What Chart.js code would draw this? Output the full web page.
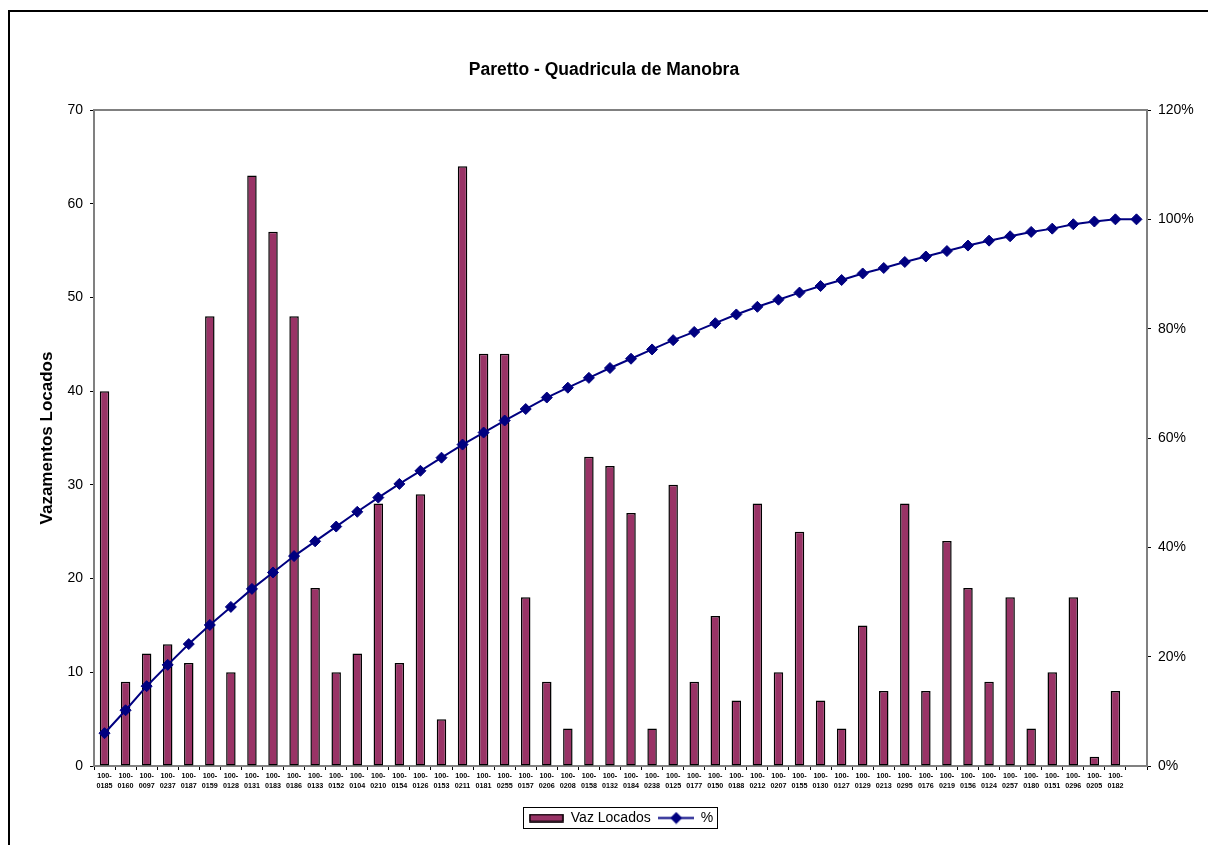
<!DOCTYPE html>
<html>
<head>
<meta charset="utf-8">
<title>Paretto - Quadricula de Manobra</title>
<script src="https://cdn.jsdelivr.net/npm/chart.js@4.4.1/dist/chart.umd.min.js"></script>
<style>
  html, body { margin: 0; padding: 0; background: #fff; overflow: hidden; }
  #wrap { position: relative; width: 1208px; height: 845px; }
  #c { position: absolute; left: 0; top: 0; }
  #frame { position: absolute; left: 8px; top: 10px; width: 1230px; height: 870px;
           border: 2px solid #000; box-sizing: border-box; pointer-events: none; }
</style>
</head>
<body>
<div id="wrap">
  <canvas id="c" width="1208" height="845"></canvas>
  <div id="frame"></div>
</div>
<script>
// Quadrícula codes (the last slot closes the cumulative curve at 100%)
const categories = [
  '100-0185','100-0160','100-0097','100-0237','100-0187','100-0159','100-0128','100-0131',
  '100-0183','100-0186','100-0133','100-0152','100-0104','100-0210','100-0154','100-0126',
  '100-0153','100-0211','100-0181','100-0255','100-0157','100-0206','100-0208','100-0158',
  '100-0132','100-0184','100-0238','100-0125','100-0177','100-0150','100-0188','100-0212',
  '100-0207','100-0155','100-0130','100-0127','100-0129','100-0213','100-0295','100-0176',
  '100-0219','100-0156','100-0124','100-0257','100-0180','100-0151','100-0296','100-0205',
  '100-0182',''
];

// Vazamentos locados per quadrícula
const vazLocados = [
  40, 9, 12, 13, 11, 48, 10, 63, 57, 48, 19, 10, 12, 28, 11, 29,
  5, 64, 44, 44, 18, 9, 4, 33, 32, 27, 4, 30, 9, 16, 7, 28,
  10, 25, 7, 4, 15, 8, 28, 8, 24, 19, 9, 18, 4, 10, 18, 1,
  8
];

// Cumulative percentage curve
const percentAcumulado = [
  6.0, 10.2, 14.6, 18.5, 22.3, 25.8, 29.1, 32.4, 35.4, 38.4,
  41.1, 43.8, 46.5, 49.1, 51.6, 54.0, 56.4, 58.8, 61.0, 63.2,
  65.3, 67.4, 69.2, 71.0, 72.8, 74.5, 76.2, 77.9, 79.4, 81.0,
  82.6, 84.0, 85.3, 86.6, 87.8, 88.9, 90.1, 91.1, 92.2, 93.2,
  94.2, 95.2, 96.1, 96.9, 97.7, 98.3, 99.1, 99.6, 100.0, 100.0
];

// Axis tick values
const leftTicks = [0, 10, 20, 30, 40, 50, 60, 70];
const rightTicks = [0, 20, 40, 60, 80, 100, 120];

const BAR_COLOR = '#993366';
const LINE_COLOR = '#000080';
const AXIS_GRAY = '#808080';
const FONT = '"Liberation Sans", Arial, Helvetica, sans-serif';

// Legend symbols: plum swatch and a line with a diamond marker
function makeBarSwatch() {
  const cv = document.createElement('canvas');
  cv.width = 35; cv.height = 9;
  const g = cv.getContext('2d');
  g.fillStyle = BAR_COLOR;
  g.fillRect(0.5, 0.5, 34, 8);
  g.strokeStyle = '#000'; g.lineWidth = 1.5;
  g.strokeRect(1, 1, 33, 7);
  return cv;
}
function makeLineSwatch() {
  const cv = document.createElement('canvas');
  cv.width = 36; cv.height = 13;
  const g = cv.getContext('2d');
  g.strokeStyle = LINE_COLOR; g.lineWidth = 2;
  g.beginPath(); g.moveTo(0, 6.5); g.lineTo(36, 6.5); g.stroke();
  g.fillStyle = LINE_COLOR;
  g.beginPath(); g.moveTo(18, 0.5); g.lineTo(24, 6.5); g.lineTo(18, 12.5); g.lineTo(12, 6.5); g.closePath(); g.fill();
  return cv;
}
const barSwatch = makeBarSwatch();
const lineSwatch = makeLineSwatch();

// Plot-area border, legend frame and legend offset
const framePlugin = {
  id: 'framePlugin',
  afterLayout(chart) {
    const lg = chart.legend;
    if (lg) { lg.left += 17; lg.right += 17; }
  },
  beforeDatasetsDraw(chart) {
    const { ctx, chartArea: a } = chart;
    ctx.save();
    ctx.strokeStyle = AXIS_GRAY;
    ctx.lineWidth = 2;
    ctx.strokeRect(a.left, a.top, a.right - a.left, a.bottom - a.top);
    ctx.restore();
  },
  afterDraw(chart) {
    const lg = chart.legend;
    if (!lg || !lg.legendHitBoxes || !lg.legendHitBoxes.length) return;
    const hb = lg.legendHitBoxes;
    let l = Infinity, r = -Infinity, t = Infinity, b = -Infinity;
    hb.forEach(h => {
      l = Math.min(l, h.left); r = Math.max(r, h.left + h.width);
      t = Math.min(t, h.top); b = Math.max(b, h.top + h.height);
    });
    const ctx = chart.ctx;
    ctx.save();
    ctx.strokeStyle = '#000';
    ctx.lineWidth = 1;
    ctx.strokeRect(Math.round(l - 6) + 0.5, Math.round(t - 4) + 0.5,
                   Math.round(r - l + 10), Math.round(b - t + 7));
    ctx.restore();
  }
};

new Chart(document.getElementById('c'), {
  type: 'bar',
  data: {
    labels: categories,
    datasets: [
      {
        type: 'bar',
        label: 'Vaz Locados',
        data: vazLocados,
        yAxisID: 'y',
        backgroundColor: BAR_COLOR,
        borderColor: '#000',
        borderWidth: 1.5,
        borderSkipped: false,
        categoryPercentage: 1.0,
        barPercentage: 0.45,
        order: 2
      },
      {
        type: 'line',
        label: '%',
        data: percentAcumulado,
        yAxisID: 'y1',
        borderColor: LINE_COLOR,
        backgroundColor: LINE_COLOR,
        borderWidth: 2,
        tension: 0,
        pointStyle: 'rectRot',
        pointRadius: 5.5,
        pointBorderWidth: 1,
        pointBorderColor: LINE_COLOR,
        pointBackgroundColor: LINE_COLOR,
        fill: false,
        order: 1
      }
    ]
  },
  options: {
    responsive: false,
    animation: false,
    events: [],
    layout: { padding: { left: 0, right: 0, top: 0, bottom: 10 } },
    plugins: {
      tooltip: { enabled: false },
      title: {
        display: true,
        text: 'Paretto - Quadricula de Manobra',
        color: '#000',
        font: { family: FONT, size: 17.5, weight: 'bold', lineHeight: 1.2 },
        padding: { top: 60, bottom: 29 }
      },
      legend: {
        display: true,
        position: 'bottom',
        labels: {
          color: '#000',
          font: { family: FONT, size: 14 },
          usePointStyle: true,
          pointStyleWidth: 35,
          padding: 8,
          generateLabels(chart) {
            const items = Chart.defaults.plugins.legend.labels.generateLabels(chart);
            items.sort((p, q) => p.datasetIndex - q.datasetIndex);
            items.forEach(it => {
              it.pointStyle = it.datasetIndex === 0 ? barSwatch : lineSwatch;
              it.rotation = 0;
            });
            return items;
          }
        }
      }
    },
    scales: {
      x: {
        type: 'category',
        offset: true,
        grid: { display: true, offset: true, drawOnChartArea: false, drawTicks: true,
                tickLength: 4, color: '#000' },
        border: { display: true, color: AXIS_GRAY, width: 2 },
        ticks: {
          autoSkip: false, maxRotation: 0, minRotation: 0, padding: 1,
          color: '#000',
          font: { family: FONT, size: 7.2, weight: 'bold', lineHeight: '10px' },
          callback(value, index) {
            const s = categories[index];
            if (!s) return '';
            const cut = s.indexOf('-') + 1;
            return [s.slice(0, cut), s.slice(cut)];
          }
        },
        afterFit(s) { s.height = 37; }
      },
      y: {
        position: 'left',
        min: leftTicks[0],
        max: leftTicks[leftTicks.length - 1],
        grid: { display: true, drawOnChartArea: false, drawTicks: true, tickLength: 4, color: '#000' },
        border: { display: true, color: AXIS_GRAY, width: 2 },
        ticks: {
          stepSize: leftTicks[1] - leftTicks[0],
          padding: 7,
          color: '#000',
          font: { family: FONT, size: 14 }
        },
        title: {
          display: true,
          text: 'Vazamentos Locados',
          color: '#000',
          font: { family: FONT, size: 17, weight: 'bold', lineHeight: 1.2 },
          padding: { top: 37, bottom: 0 }
        },
        afterFit(s) { s.width = 94; }
      },
      y1: {
        position: 'right',
        min: rightTicks[0],
        max: rightTicks[rightTicks.length - 1],
        grid: { display: true, drawOnChartArea: false, drawTicks: true, tickLength: 4, color: '#000' },
        border: { display: true, color: AXIS_GRAY, width: 2 },
        ticks: {
          stepSize: rightTicks[1] - rightTicks[0],
          padding: 7,
          color: '#000',
          font: { family: FONT, size: 14 },
          callback(v) { return v + '%'; }
        },
        afterFit(s) { s.width = 61; }
      }
    }
  },
  plugins: [framePlugin]
});
</script>
</body>
</html>
